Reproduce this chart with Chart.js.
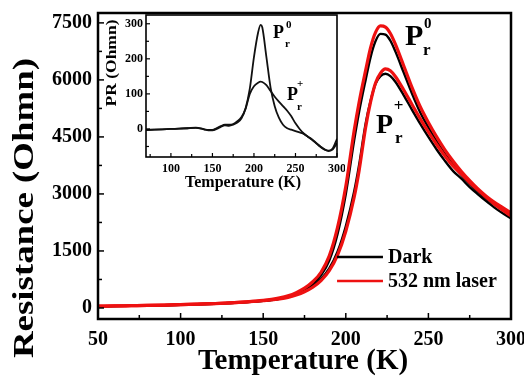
<!DOCTYPE html>
<html><head><meta charset="utf-8">
<script src="https://cdn.jsdelivr.net/npm/chart.js@4.4.0/dist/chart.umd.min.js"></script>
<style>
html,body{margin:0;padding:0;background:#fff;}
#wrap{position:relative;width:524px;height:387px;overflow:hidden;background:#fff;}
#main{position:absolute;left:0;top:0;}
#inset{position:absolute;left:99px;top:13px;}
</style></head><body>
<div id="wrap"><canvas id="main" width="524" height="387"></canvas><canvas id="inset" width="246" height="184"></canvas></div>
<script>
// ---------- DATA (main) ----------
const tempMain = [50,60,70,80,90,100,110,120,130,140,150,155,160,165,170,175,180,185,190,195,200,205,208,212,215,218,221,224,227,230,235,240,245,250,255,260,265,270,275,280,285,290,295,300];
const darkP0  = [45,50,57,64,73,84,97,112,130,155,190,215,250,300,375,480,630,860,1250,1950,3000,4400,5150,6000,6600,7020,7210,7190,7030,6750,6200,5650,5150,4750,4380,4050,3760,3500,3270,3060,2880,2720,2580,2440];
const laserP0 = [48,53,60,67,76,87,100,116,135,162,200,228,267,322,405,520,690,940,1370,2120,3200,4650,5400,6250,6850,7250,7420,7390,7220,6940,6380,5810,5300,4880,4500,4160,3860,3590,3350,3130,2940,2780,2640,2500];
const darkPp  = [45,50,57,64,73,84,97,112,130,155,188,210,242,285,350,440,570,760,1040,1480,2150,3050,3750,4850,5450,5900,6100,6160,6100,5950,5600,5220,4850,4500,4170,3870,3600,3400,3180,2990,2810,2640,2490,2360];
const laserPp = [48,53,60,67,76,87,100,115,133,158,190,210,240,280,340,425,545,720,980,1390,2020,2900,3600,4750,5420,5920,6180,6290,6240,6090,5740,5360,4980,4630,4300,4000,3730,3520,3300,3100,2910,2730,2570,2420];
const mainXTicks = [50,100,150,200,250,300];
const mainXMinor = [75,125,175,225,275];
const mainYTicks = [0,1500,3000,4500,6000,7500];
const mainYMinor = [750,2250,3750,5250,6750];
const legendLabels = ["Dark","532 nm laser"];

// ---------- DATA (inset) ----------
const tempInset = [70,80,90,100,110,120,130,140,145,150,155,160,165,170,175,180,185,190,195,200,205,208,210,215,220,225,230,235,240,245,250,255,260,265,270,275,280,285,290,295,300];
const prP0 = [-3,-2,-1,0,1,2,4,-1,-4,-4,0,6,10,9,12,18,30,60,115,205,275,297,290,205,118,65,32,12,2,-2,-6,-10,-14,-22,-30,-40,-50,-58,-63,-55,-28];
const prPp = [-3,-2,-1,0,1,2,3,-1,-3,-3,2,8,12,12,14,22,34,58,100,122,132,135,134,125,108,92,78,65,52,36,16,0,-13,-22,-31,-41,-51,-59,-62,-58,-40];
const insetXTicks = [100,150,200,250,300];
const insetXMinor = [75,125,175,225,275];
const insetYTicks = [0,100,200,300];
const insetYMinor = [-50,50,150,250];

const SERIF = "'Liberation Serif','Times New Roman',serif";
const pts = (xs, ys) => xs.map((x, i) => ({x, y: ys[i]}));
const plain = v => String(v);

const frameTicks = {
  id: 'frameTicks',
  afterDraw(chart, args, o) {
    const {ctx, chartArea: a} = chart;
    const x = chart.scales.x, y = chart.scales.y;
    ctx.save();
    ctx.strokeStyle = '#000';
    ctx.lineWidth = o.tickWidth;
    const tx = (vals, len) => vals.forEach(v => {
      const px = x.getPixelForValue(v);
      ctx.beginPath(); ctx.moveTo(px, a.bottom); ctx.lineTo(px, a.bottom - len); ctx.stroke();
    });
    const ty = (vals, len) => vals.forEach(v => {
      const py = y.getPixelForValue(v);
      ctx.beginPath(); ctx.moveTo(a.left, py); ctx.lineTo(a.left + len, py); ctx.stroke();
    });
    tx(o.xMajor, o.major); tx(o.xMinor, o.minor);
    ty(o.yMajor, o.major); ty(o.yMinor, o.minor);
    ctx.lineWidth = o.border;
    ctx.strokeRect(a.left, a.top, a.right - a.left, a.bottom - a.top);
    (o.texts || []).forEach(t => {
      ctx.font = t.font;
      ctx.fillStyle = '#000';
      ctx.textBaseline = t.baseline || 'alphabetic';
      ctx.textAlign = t.align || 'left';
      let px = t.px, py = t.py;
      if (t.dx !== undefined) px = x.getPixelForValue(t.dx);
      if (t.dy !== undefined) py = y.getPixelForValue(t.dy);
      ctx.save();
      ctx.translate(px, py);
      if (t.rot) ctx.rotate(t.rot);
      if (t.width) { const w = ctx.measureText(t.text).width; ctx.scale(t.width / w, 1); }
      ctx.fillText(t.text, 0, 0);
      ctx.restore();
    });
    if (o.legend) {
      const L = o.legend;
      chart.data.datasets.filter(d => d.legendIndex !== undefined).sort((p,q)=>p.legendIndex-q.legendIndex).forEach((d, i) => {
        const py = y.getPixelForValue(L.rows[i]);
        const x0 = x.getPixelForValue(L.x0), x1 = x.getPixelForValue(L.x1);
        ctx.strokeStyle = d.borderColor; ctx.lineWidth = 2.5;
        ctx.beginPath(); ctx.moveTo(x0, py); ctx.lineTo(x1, py); ctx.stroke();
        ctx.font = L.font; ctx.fillStyle = '#000'; ctx.textAlign = 'left'; ctx.textBaseline = 'middle';
        ctx.fillText(d.label, x1 + 5, py + 1);
      });
    }
    ctx.restore();
  }
};

// ---------- MAIN CHART ----------
new Chart(document.getElementById('main'), {
  type: 'line',
  data: {
    datasets: [
      {label: legendLabels[1], legendIndex: 1, data: pts(tempMain, laserP0), borderColor: '#ee1111', borderWidth: 3.2},
      {label: legendLabels[1], data: pts(tempMain, laserPp), borderColor: '#ee1111', borderWidth: 3.2},
      {label: legendLabels[0], legendIndex: 0, data: pts(tempMain, darkP0), borderColor: '#000000', borderWidth: 2.4},
      {label: legendLabels[0], data: pts(tempMain, darkPp), borderColor: '#000000', borderWidth: 2.4}
    ]
  },
  options: {
    responsive: false, animation: false, devicePixelRatio: 1,
    parsing: false,
    elements: {point: {radius: 0}, line: {cubicInterpolationMode: 'monotone', fill: false}},
    layout: {padding: {left: 0, right: 13, top: 13, bottom: 0}},
    plugins: {
      legend: {display: false}, tooltip: {enabled: false},
      frameTicks: {
        tickWidth: 1.5, border: 2.5, major: 6, minor: 4,
        xMajor: mainXTicks, xMinor: mainXMinor, yMajor: mainYTicks, yMinor: mainYMinor,
        texts: [
          {text: 'Temperature (K)', px: 303, py: 362, align: 'center', baseline: 'middle', font: `bold 29px ${SERIF}`},
          {text: 'Resistance (Ohmn)', px: 25, py: 208, align: 'center', baseline: 'middle', rot: -Math.PI/2, width: 300, font: `bold 30px ${SERIF}`},
          {text: 'P', dx: 235.8, dy: 6921, font: `bold 30px ${SERIF}`},
          {text: '0', dx: 247.3, dy: 7368, font: `bold 15px ${SERIF}`},
          {text: 'r', dx: 246.7, dy: 6658, font: `bold 17px ${SERIF}`},
          {text: 'P', dx: 218.3, dy: 4605, font: `bold 28px ${SERIF}`},
          {text: '+', dx: 229.0, dy: 5184, font: `bold 17px ${SERIF}`},
          {text: 'r', dx: 229.8, dy: 4342, font: `bold 17px ${SERIF}`}
        ],
        legend: {x0: 194.7, x1: 222.5, rows: [1341, 710], font: `bold 20px ${SERIF}`}
      }
    },
    scales: {
      x: {
        type: 'linear', min: 50, max: 300,
        grid: {display: false, drawTicks: false}, border: {display: false},
        afterBuildTicks: s => { s.ticks = mainXTicks.map(v => ({value: v})); },
        afterFit: s => { s.height = 68; s.paddingLeft = 0; s.paddingRight = 0; },
        ticks: {padding: 9, color: '#000', callback: plain, font: {family: SERIF, size: 20, weight: 'bold'}, maxRotation: 0}
      },
      y: {
        type: 'linear', min: -290, max: 7760,
        grid: {display: false, drawTicks: false}, border: {display: false},
        afterBuildTicks: s => { s.ticks = mainYTicks.map(v => ({value: v})); },
        afterFit: s => { s.width = 98; s.paddingTop = 0; s.paddingBottom = 0; },
        ticks: {padding: 6, color: '#000', callback: plain, font: {family: SERIF, size: 20, weight: 'bold'}}
      }
    }
  },
  plugins: [frameTicks]
});

// ---------- INSET CHART ----------
new Chart(document.getElementById('inset'), {
  type: 'line',
  data: {
    datasets: [
      {label: 'P0', data: pts(tempInset, prP0), borderColor: '#111', borderWidth: 1.8},
      {label: 'P+', data: pts(tempInset, prPp), borderColor: '#111', borderWidth: 1.8}
    ]
  },
  options: {
    responsive: false, animation: false, devicePixelRatio: 1,
    parsing: false,
    elements: {point: {radius: 0}, line: {cubicInterpolationMode: 'monotone', fill: false}},
    layout: {padding: {left: 0, right: 8, top: 2, bottom: 0}},
    plugins: {
      legend: {display: false}, tooltip: {enabled: false},
      frameTicks: {
        tickWidth: 1.2, border: 1.6, major: 4, minor: 3,
        xMajor: insetXTicks, xMinor: insetXMinor, yMajor: insetYTicks, yMinor: insetYMinor,
        texts: [
          {text: 'Temperature (K)', px: 144, py: 170, align: 'center', baseline: 'middle', font: `bold 16px ${SERIF}`},
          {text: 'PR (Ohmn)', px: 13.5, py: 50, align: 'center', baseline: 'middle', rot: -Math.PI/2, width: 87, font: `bold 14px ${SERIF}`},
          {text: 'P', dx: 222.9, dy: 259.6, font: `bold 18px ${SERIF}`},
          {text: '0', dx: 238.6, dy: 288, font: `bold 11px ${SERIF}`},
          {text: 'r', dx: 237.4, dy: 234, font: `bold 11px ${SERIF}`},
          {text: 'P', dx: 239.8, dy: 82.7, font: `bold 18px ${SERIF}`},
          {text: '+', dx: 251.8, dy: 119.8, font: `bold 11px ${SERIF}`},
          {text: 'r', dx: 251.8, dy: 54, font: `bold 11px ${SERIF}`}
        ]
      }
    },
    scales: {
      x: {
        type: 'linear', min: 70, max: 300,
        grid: {display: false, drawTicks: false}, border: {display: false},
        afterBuildTicks: s => { s.ticks = insetXTicks.map(v => ({value: v})); },
        afterFit: s => { s.height = 40; s.paddingLeft = 0; s.paddingRight = 0; },
        ticks: {padding: 5, color: '#000', callback: plain, font: {family: SERIF, size: 12, weight: 'bold'}, maxRotation: 0}
      },
      y: {
        type: 'linear', min: -80, max: 325,
        grid: {display: false, drawTicks: false}, border: {display: false},
        afterBuildTicks: s => { s.ticks = insetYTicks.map(v => ({value: v})); },
        afterFit: s => { s.width = 47; s.paddingTop = 0; s.paddingBottom = 0; },
        ticks: {padding: 3, color: '#000', callback: plain, font: {family: SERIF, size: 12, weight: 'bold'}}
      }
    }
  },
  plugins: [frameTicks]
});
</script>
</body></html>
